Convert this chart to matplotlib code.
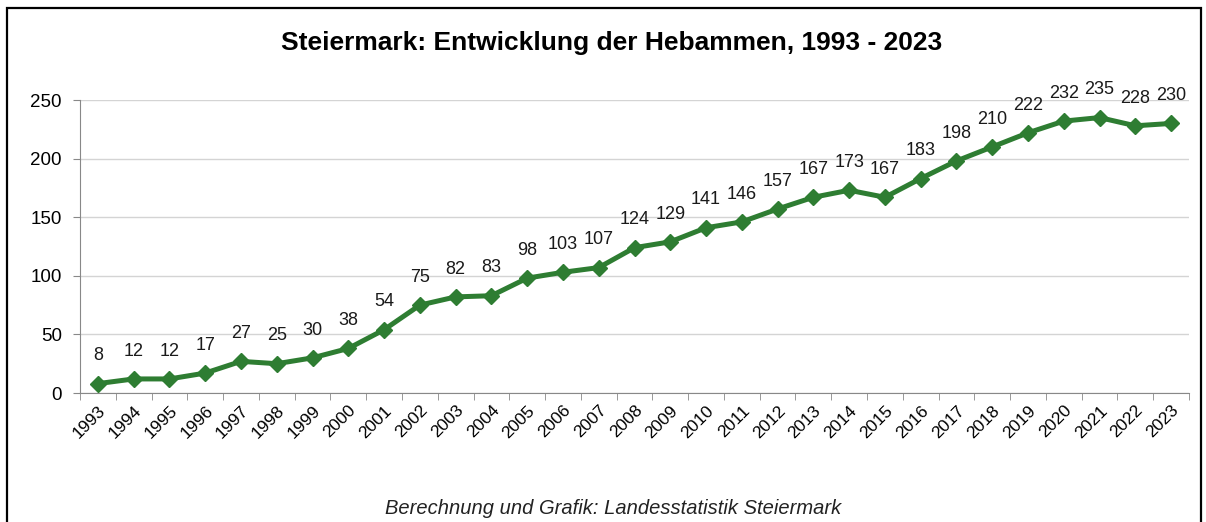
"""
Steiermark: Hebammen 1993 - 2023
"""
import matplotlib
matplotlib.use('Agg')
import matplotlib.pyplot as plt
from matplotlib.patches import Rectangle
from matplotlib.transforms import ScaledTranslation

years = [str(y) for y in range(1993, 2024)]
midwives = [8, 12, 12, 17, 27, 25, 30, 38, 54, 75, 82, 83, 98, 103, 107, 124,
            129, 141, 146, 157, 167, 173, 167, 183, 198, 210, 222, 232, 235,
            228, 230]
y_ticks = [0, 50, 100, 150, 200, 250]

plt.rcParams['font.family'] = ['Liberation Sans', 'DejaVu Sans']

W, H = 1206, 522
fig = plt.figure(figsize=(W / 100, H / 100), dpi=100)

# outer frame (bottom edge is cut off in the original)
fig.patches.append(Rectangle((7 / W, -0.05), (1201 - 7) / W, 1.05 - 8 / H,
                             transform=fig.transFigure, fill=False,
                             edgecolor='black', linewidth=1.6))

ax = fig.add_axes([80 / W, 1 - 393 / H, (1189 - 80) / W, (393 - 100) / H])

x = list(range(len(years)))
ax.plot(x, midwives, color='#2e7d32', linewidth=3.6, marker='D',
        markersize=8, zorder=3)

for xi, v in zip(x, midwives):
    ax.annotate(str(v), (xi, v), xytext=(0, 20), textcoords='offset points',
                ha='center', va='center', fontsize=13, color='#1a1a1a')

ax.set_xlim(-0.5, len(years) - 0.5)
ax.set_ylim(0, 250)
ax.set_yticks(y_ticks)
ax.set_yticklabels([str(t) for t in y_ticks], fontsize=13.5)
ax.set_xticks(x)
ax.set_xticklabels(years, rotation=45, ha='right', va='top',
                   rotation_mode='anchor', fontsize=12.5)
shift = ScaledTranslation(4 / 100, 0, fig.dpi_scale_trans)
for lab in ax.get_xticklabels():
    lab.set_transform(lab.get_transform() + shift)
ax.set_xticks([i - 0.5 for i in range(len(years) + 1)], minor=True)
ax.tick_params(axis='x', which='major', length=0, pad=7)
ax.tick_params(axis='x', which='minor', length=5, color='#888888')
ax.tick_params(axis='y', length=5, color='#888888', pad=8)

ax.grid(axis='y', color='#d4d4d4', linewidth=1)
ax.set_axisbelow(True)
for side in ['top', 'right']:
    ax.spines[side].set_visible(False)
for side in ['left', 'bottom']:
    ax.spines[side].set_color('#888888')

fig.text(612 / W, 1 - 43 / H, 'Steiermark: Entwicklung der Hebammen, 1993 - 2023',
         ha='center', va='center', fontsize=19, fontweight='bold')
fig.text(613 / W, 1 - 508 / H, 'Berechnung und Grafik: Landesstatistik Steiermark',
         ha='center', va='center', fontsize=14.5, style='italic', color='#222222')

fig.savefig('out.png', dpi=100)
